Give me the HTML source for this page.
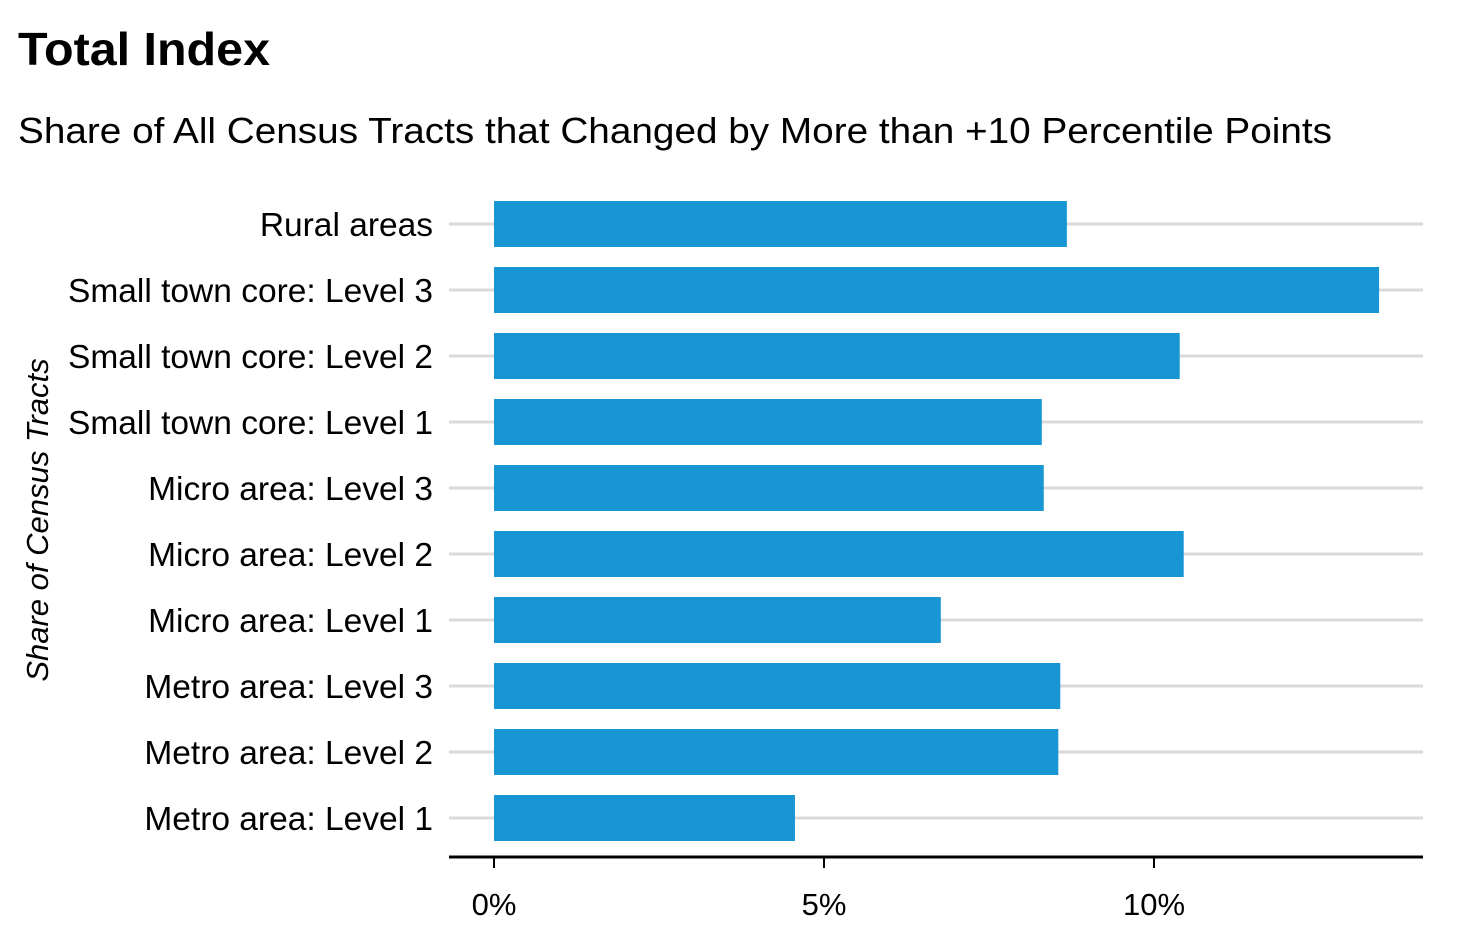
<!DOCTYPE html>
<html><head><meta charset="utf-8"><style>
body{margin:0;background:#fff;}
svg text{font-family:"Liberation Sans",sans-serif;fill:#000;}
</style></head><body>
<svg width="1474" height="940" xmlns="http://www.w3.org/2000/svg">
<text x="18" y="65" font-size="46" font-weight="bold" textLength="252" lengthAdjust="spacingAndGlyphs">Total Index</text>
<text x="18" y="143" font-size="36" textLength="1314" lengthAdjust="spacingAndGlyphs">Share of All Census Tracts that Changed by More than +10 Percentile Points</text>
<text transform="translate(48,520) rotate(-90)" text-anchor="middle" font-size="31" font-style="italic">Share of Census Tracts</text>
<g id="plot"></g>
</svg>
<script>
const categories=["Rural areas","Small town core: Level 3","Small town core: Level 2","Small town core: Level 1","Micro area: Level 3","Micro area: Level 2","Micro area: Level 1","Metro area: Level 3","Metro area: Level 2","Metro area: Level 1"];
const values=[8.68,13.41,10.39,8.30,8.33,10.45,6.77,8.58,8.55,4.56];
const ticks=[0,5,10];
const tickLabels=["0%","5%","10%"];
const NS="http://www.w3.org/2000/svg";
const g=document.getElementById('plot');
const x=v=>494+v*66;
const y=i=>224+i*66;
function mk(t,a){const e=document.createElementNS(NS,t);for(const k in a)e.setAttribute(k,a[k]);g.appendChild(e);return e;}
categories.forEach((c,i)=>{
  const gl=mk('line',{x1:449,x2:1423,y1:y(i),y2:y(i),stroke:'#d9d9d9','stroke-width':3});
  
  
  const b=mk('rect',{x:x(0),y:y(i)-23,width:x(values[i])-x(0),height:46,fill:'#1896d3'});
  
  
  const t=mk('text',{x:433,y:y(i)+12,'text-anchor':'end','font-size':33.5});
  t.textContent=c;
  
  
});
const ax=mk('line',{x1:449,x2:1423,y1:857,y2:857,stroke:'#000','stroke-width':3});


ticks.forEach((v,i)=>{
  const tk=mk('line',{x1:x(v),x2:x(v),y1:857,y2:868,stroke:'#000','stroke-width':2});
  
  
  const t=mk('text',{x:x(v),y:915,'text-anchor':'middle','font-size':31});
  t.textContent=tickLabels[i];
  
  
});
</script>
</body></html>
